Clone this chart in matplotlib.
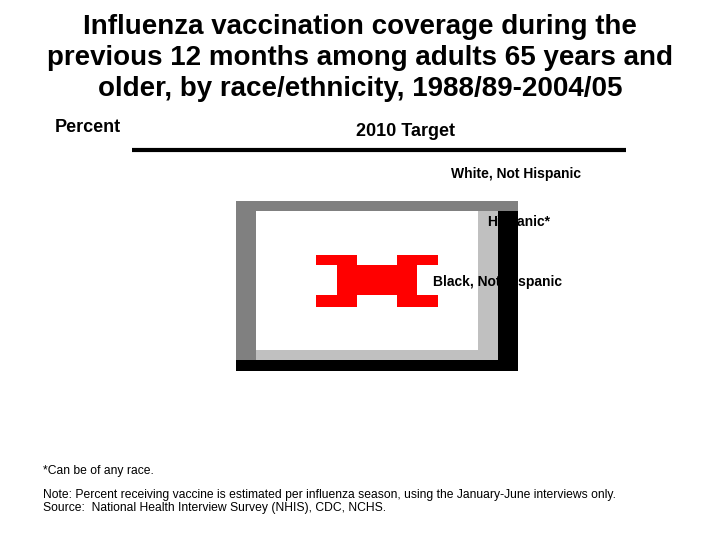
import matplotlib
matplotlib.use("Agg")
import matplotlib.pyplot as plt
from matplotlib.patches import Rectangle, Polygon

plt.rcParams['font.family'] = ['Liberation Sans', 'DejaVu Sans']

title_lines = [
    "Influenza vaccination coverage during the",
    "previous 12 months among adults 65 years and",
    "older, by race/ethnicity, 1988/89-2004/05",
]
y_label = "Percent"
target_label = "2010 Target"
series_labels = ["White, Not Hispanic", "Hispanic*", "Black, Not Hispanic"]
footnote = "*Can be of any race."
notes = [
    "Note: Percent receiving vaccine is estimated per influenza season, using the January-June interviews only.",
    "Source:  National Health Interview Survey (NHIS), CDC, NCHS.",
]

fig = plt.figure(figsize=(7.2, 5.4), dpi=100)
ax = fig.add_axes([0, 0, 1, 1])
ax.set_xlim(0, 720)
ax.set_ylim(540, 0)
ax.axis("off")

# title
for i, line in enumerate(title_lines):
    ax.text(360, 27 + i * 31, line, ha="center", va="center",
            fontsize=20, fontweight="bold")

ax.text(55, 128, y_label, ha="left", va="center", fontsize=13, fontweight="bold")
ax.text(405, 131, target_label, ha="center", va="center", fontsize=13, fontweight="bold")
ax.plot([132, 626], [150, 150], color="black", lw=3, solid_capstyle="butt")

# broken picture placeholder where the chart should be
ax.add_patch(Rectangle((236, 201), 282, 170, facecolor="#808080", edgecolor="none", zorder=1))
ax.add_patch(Rectangle((256, 211), 242, 149, facecolor="#c0c0c0", edgecolor="none", zorder=2))
ax.add_patch(Rectangle((256, 211), 222, 139, facecolor="white", edgecolor="none", zorder=3))
ax.add_patch(Rectangle((498, 211), 20, 160, facecolor="black", edgecolor="none", zorder=5))
ax.add_patch(Rectangle((236, 360), 282, 11, facecolor="black", edgecolor="none", zorder=5))

icon = [(316, 255), (357, 255), (357, 265), (397, 265), (397, 255), (438, 255),
        (438, 265), (417, 265), (417, 295), (438, 295), (438, 307), (397, 307),
        (397, 295), (357, 295), (357, 307), (316, 307), (316, 295), (337, 295),
        (337, 265), (316, 265)]
ax.add_patch(Polygon(icon, closed=True, facecolor="#ff0000", edgecolor="none", zorder=3.5))

label_pos = [(451, 174), (487, 222), (433, 282)]
for (x, y), lab in zip(label_pos, series_labels):
    ax.text(x, y, lab, ha="left", va="center", fontsize=10, fontweight="bold", zorder=4)

ax.text(43, 471, footnote, ha="left", va="center", fontsize=8.7)
for i, line in enumerate(notes):
    ax.text(43, 495 + i * 13, line, ha="left", va="center", fontsize=8.7)

fig.savefig("out.png", dpi=100)
